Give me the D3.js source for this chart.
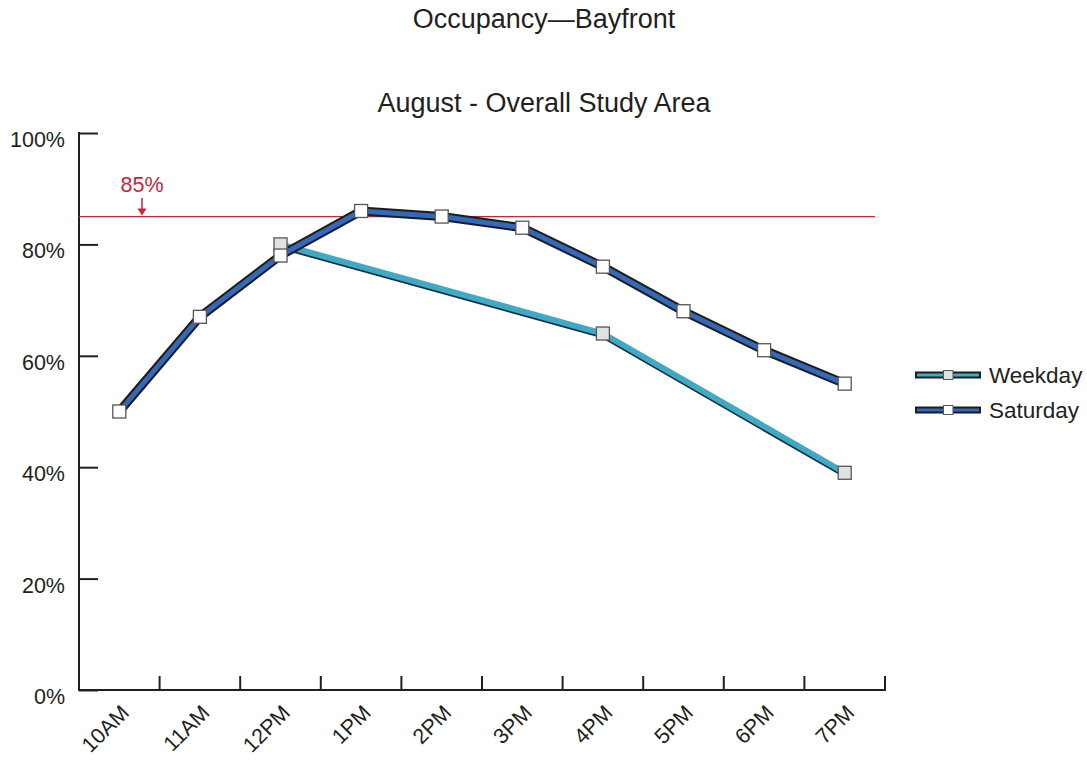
<!DOCTYPE html>
<html>
<head>
<meta charset="utf-8">
<script src="https://cdn.jsdelivr.net/npm/d3@7"></script>
<style>
  body { margin: 0; background: #fff; }
  svg { display: block; font-family: "Liberation Sans", Arial, Helvetica, sans-serif; }
</style>
</head>
<body>
<svg id="chart" width="1087" height="761"></svg>
<script>
// Hourly occupancy, August, overall study area
const hours = ["10AM", "11AM", "12PM", "1PM", "2PM", "3PM", "4PM", "5PM", "6PM", "7PM"];
const weekday = [null, null, 80, null, null, null, 64, null, null, 39];
const saturday = [50, 67, 78, 86, 85, 83, 76, 68, 61, 55];
const yTicks = [0, 20, 40, 60, 80, 100];
const threshold = 85;
const seriesNames = ["Weekday", "Saturday"];

(function () {
const svg = d3.select("#chart");
const plotLeft = 79, plotRight = 885, plotTop = 133, plotBottom = 690;
const ink = "#231f20";

const x = d3.scaleBand().domain(hours).range([plotLeft, plotRight]).paddingInner(0).paddingOuter(0);
const y = d3.scaleLinear().domain([0, 100]).range([plotBottom, plotTop]);
const cx = h => x(h) + x.bandwidth() / 2;

// Titles
svg.append("text").attr("x", 544).attr("y", 28).attr("text-anchor", "middle")
  .attr("font-size", 27).attr("fill", ink).text("Occupancy\u2014Bayfront");
svg.append("text").attr("x", 544).attr("y", 112).attr("text-anchor", "middle")
  .attr("font-size", 27).attr("fill", ink).text("August - Overall Study Area");

// Y axis: inward ticks
const yAxis = svg.append("g").attr("transform", `translate(${plotLeft},0)`)
  .call(d3.axisRight(y).tickValues(yTicks).tickSize(19).tickFormat(""));
yAxis.select(".domain").remove();
yAxis.selectAll(".tick line").attr("stroke", ink).attr("stroke-width", 2);
svg.append("line").attr("x1", plotLeft).attr("x2", plotLeft).attr("y1", plotTop - 1).attr("y2", plotBottom + 1)
  .attr("stroke", ink).attr("stroke-width", 2);
svg.append("g").selectAll("text").data(yTicks).join("text")
  .attr("x", 65).attr("y", d => y(d) + 14).attr("text-anchor", "end")
  .attr("font-size", 21.5).attr("fill", ink).text(d => d + "%");

// X axis: ticks at band boundaries pointing up
const xBounds = hours.slice(1).map(h => x(h)).concat([plotRight]);
svg.append("line").attr("x1", plotLeft).attr("x2", plotRight + 1).attr("y1", plotBottom).attr("y2", plotBottom)
  .attr("stroke", ink).attr("stroke-width", 2);
svg.append("g").selectAll("line").data(xBounds).join("line")
  .attr("x1", d => d).attr("x2", d => d).attr("y1", plotBottom).attr("y2", plotBottom - 14)
  .attr("stroke", ink).attr("stroke-width", 2);
svg.append("g").selectAll("text").data(hours).join("text")
  .attr("transform", h => `translate(${cx(h) + 11},${plotBottom + 24}) rotate(-45)`)
  .attr("text-anchor", "end").attr("font-size", 21.5).attr("fill", ink).text(h => h);

// 85% reference line with label
const red = "#c3283a";
svg.append("line").attr("x1", plotLeft).attr("x2", 875).attr("y1", y(threshold)).attr("y2", y(threshold))
  .attr("stroke", red).attr("stroke-width", 1.2);
svg.append("text").attr("x", 142).attr("y", 192).attr("text-anchor", "middle")
  .attr("font-size", 21.5).attr("fill", red).text(threshold + "%");
svg.append("line").attr("x1", 142).attr("x2", 142).attr("y1", 198).attr("y2", y(threshold) - 6)
  .attr("stroke", red).attr("stroke-width", 1.5);
svg.append("path")
  .attr("d", `M137.5,${y(threshold) - 8} L146.5,${y(threshold) - 8} L142,${y(threshold) - 1} Z`)
  .attr("fill", red);

// Series lines
const wkPts = hours.map((h, i) => ({ h, v: weekday[i] })).filter(d => d.v !== null);
const satPts = hours.map((h, i) => ({ h, v: saturday[i] }));
const line = d3.line().x(d => cx(d.h)).y(d => y(d.v));

const cyan = "#40a9c5", blue = "#3468b8";

svg.append("path").datum(wkPts).attr("d", line).attr("fill", "none")
  .attr("stroke", "#1f2f38").attr("stroke-width", 6.5).attr("transform", "translate(0,1.5)")
  .attr("stroke-linejoin", "round");
svg.append("path").datum(wkPts).attr("d", line).attr("fill", "none")
  .attr("stroke", cyan).attr("stroke-width", 6).attr("stroke-linejoin", "round");

svg.append("path").datum(satPts).attr("d", line).attr("fill", "none")
  .attr("stroke", "#1c1c1e").attr("stroke-width", 9).attr("stroke-linejoin", "round");
svg.append("path").datum(satPts).attr("d", line).attr("fill", "none")
  .attr("stroke", blue).attr("stroke-width", 5).attr("stroke-linejoin", "round");

// Markers
const ms = 13;
svg.append("g").selectAll("rect").data(wkPts).join("rect")
  .attr("x", d => cx(d.h) - ms / 2).attr("y", d => y(d.v) - ms / 2)
  .attr("width", ms).attr("height", ms)
  .attr("fill", "#e0e1e2").attr("stroke", "#555").attr("stroke-width", 1.3);
svg.append("g").selectAll("rect").data(satPts).join("rect")
  .attr("x", d => cx(d.h) - ms / 2).attr("y", d => y(d.v) - ms / 2)
  .attr("width", ms).attr("height", ms)
  .attr("fill", "#fff").attr("stroke", "#555").attr("stroke-width", 1.3);

// Legend
const legend = svg.append("g");
const legendRows = [
  { name: seriesNames[0], color: cyan, fill: "#e0e1e2", y: 375 },
  { name: seriesNames[1], color: blue, fill: "#fff", y: 410 }
];
legendRows.forEach(r => {
  legend.append("rect").attr("x", 916).attr("y", r.y - 2.5).attr("width", 64).attr("height", 5)
    .attr("fill", r.color).attr("stroke", "#1c1c1e").attr("stroke-width", 2);
  legend.append("rect").attr("x", 943.5).attr("y", r.y - 4.5).attr("width", 9.5).attr("height", 9)
    .attr("fill", r.fill).attr("stroke", "#555").attr("stroke-width", 1);
  legend.append("text").attr("x", 989).attr("y", r.y + 8).attr("font-size", 22.5)
    .attr("fill", ink).text(r.name);
});
})();
</script>
</body>
</html>
